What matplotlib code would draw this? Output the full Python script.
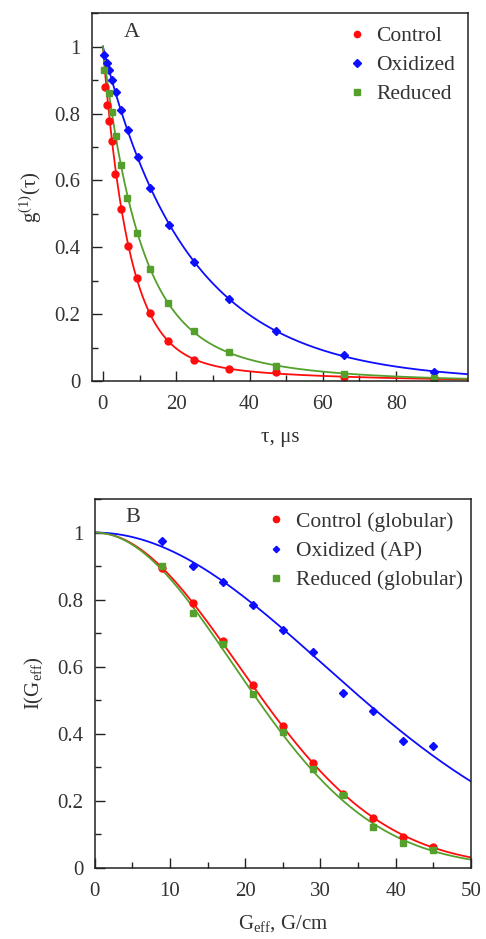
import numpy as np
import matplotlib
matplotlib.use('Agg')
import matplotlib.pyplot as plt
from matplotlib.ticker import MultipleLocator, FormatStrFormatter

plt.rcParams['font.family'] = ['Liberation Serif', 'DejaVu Serif']
plt.rcParams['mathtext.fontset'] = 'custom'
plt.rcParams['mathtext.rm'] = 'Liberation Serif'
plt.rcParams['mathtext.it'] = 'Liberation Serif:italic'
plt.rcParams['text.color'] = '#333333'
plt.rcParams['axes.labelcolor'] = '#333333'
plt.rcParams['xtick.color'] = '#222222'
plt.rcParams['ytick.color'] = '#222222'
plt.rcParams['xtick.labelcolor'] = '#333333'
plt.rcParams['ytick.labelcolor'] = '#333333'

RED = '#ff0d0d'
BLUE = '#0d0dff'
GREEN = '#55a02c'

# panel A: correlation functions
tau_control = [0.5, 1.1, 1.7, 2.5, 3.4, 4.9, 6.8, 9.3, 12.9, 17.9, 24.9, 34.3, 47.3, 65.7, 90.3]
g_control = [0.88, 0.826, 0.777, 0.717, 0.619, 0.514, 0.403, 0.308, 0.203, 0.120, 0.063, 0.037, 0.027, 0.013, 0.006]

tau_oxidized = [0.4, 1.1, 1.7, 2.6, 3.6, 4.9, 6.9, 9.5, 12.9, 18.1, 24.9, 34.3, 47.3, 65.7, 90.3]
g_oxidized = [0.974, 0.952, 0.93, 0.90, 0.865, 0.81, 0.75, 0.671, 0.576, 0.468, 0.355, 0.246, 0.149, 0.077, 0.029]

tau_reduced = [0.3, 1.8, 2.6, 3.5, 5.0, 6.7, 9.3, 12.9, 17.9, 24.9, 34.3, 47.3, 65.7, 90.3]
g_reduced = [0.93, 0.86, 0.805, 0.734, 0.646, 0.549, 0.443, 0.335, 0.233, 0.150, 0.086, 0.046, 0.023, 0.01]

# panel B: diffusion attenuation
geff = [9, 13, 17, 21, 25, 29, 33, 37, 41, 45]
i_control = [0.895, 0.790, 0.677, 0.546, 0.422, 0.312, 0.222, 0.148, 0.093, 0.064]
i_oxidized = [0.974, 0.901, 0.852, 0.784, 0.710, 0.645, 0.521, 0.469, 0.379, 0.365]
i_reduced = [0.901, 0.760, 0.669, 0.518, 0.404, 0.296, 0.218, 0.123, 0.076, 0.054]


def fit_biexp(t, g):
    # g(t) = a*exp(-t/t1) + (1-a)*exp(-t/t2), weighted grid search on t1, t2
    t = np.asarray(t)
    g = np.asarray(g)
    w = 1.0 / (g + 0.03) ** 2
    best = None
    for t1 in np.linspace(1, 40, 79):
        for t2 in np.linspace(5, 150, 146):
            if t2 <= t1:
                continue
            e1 = np.exp(-t / t1)
            e2 = np.exp(-t / t2)
            d = e1 - e2
            a = np.clip(np.sum(w * (g - e2) * d) / np.sum(w * d * d), 0, 1)
            r = np.sum(w * (a * e1 + (1 - a) * e2 - g) ** 2)
            if best is None or r < best[0]:
                best = (r, t1, t2, a)
    _, t1, t2, a = best
    return lambda x: a * np.exp(-x / t1) + (1 - a) * np.exp(-x / t2)


def fit_gauss(G, I):
    G = np.asarray(G, float)
    I = np.asarray(I, float)
    k = -np.sum(G ** 2 * np.log(I)) / np.sum(G ** 4)
    return lambda x: np.exp(-k * x ** 2)


def style_axes(ax):
    ax.tick_params(which='both', direction='in', top=False, right=False, labelsize=15)
    ax.tick_params(axis='x', which='both', pad=10)
    ax.tick_params(axis='y', which='both', pad=8)
    ax.tick_params(which='major', length=7, width=1)
    ax.tick_params(which='minor', length=4.5, width=1)
    for s in ax.spines.values():
        s.set_linewidth(1.1)
        s.set_color('#222222')
    ax.yaxis.set_major_locator(MultipleLocator(0.2))
    ax.yaxis.set_minor_locator(MultipleLocator(0.1))
    ax.yaxis.set_major_formatter(FormatStrFormatter('%g'))
    ax.set_ylim(0, 1.1)


fig = plt.figure(figsize=(4.86, 9.39), dpi=100)

# ---- A ----
ax1 = fig.add_axes([0.189, 0.594, 0.774, 0.392])
xs = np.linspace(0, 100, 600)
series_a = [
    (tau_control, g_control, RED, 'o', 5, 'Control'),
    (tau_oxidized, g_oxidized, BLUE, 'D', 4.5, 'Oxidized'),
    (tau_reduced, g_reduced, GREEN, 's', 4.8, 'Reduced'),
]
for t, g, c, m, ms, lab in series_a:
    f = fit_biexp(t, g)
    ax1.plot(xs, f(xs), color=c, lw=1.3)
for t, g, c, m, ms, lab in series_a:
    ax1.plot(t, g, ls='none', marker=m, ms=ms, color=c, mec=c, label=lab)
ax1.set_xlim(-3, 99.6)
ax1.xaxis.set_major_locator(MultipleLocator(20))
ax1.xaxis.set_minor_locator(MultipleLocator(10))
style_axes(ax1)
ax1.set_xlabel('τ, μs', fontsize=15, labelpad=10)
ax1.set_ylabel('$\\mathregular{g^{(1)}(τ)}$', fontsize=15, labelpad=8)
ax1.text(0.106, 0.948, 'A', transform=ax1.transAxes, fontsize=16, ha='center', va='center')
ax1.legend(loc='upper right', frameon=False, fontsize=15.5, handlelength=0.8,
           handletextpad=0.5, labelspacing=0.42, borderaxespad=0.3, borderpad=0.3,
           markerscale=0.9)

# ---- B ----
ax2 = fig.add_axes([0.195, 0.0756, 0.774, 0.393])
xg = np.linspace(0, 50, 400)
series_b = [
    (i_control, RED, 'o', 5, 'Control (globular)'),
    (i_oxidized, BLUE, 'D', 3.6, 'Oxidized (AP)'),
    (i_reduced, GREEN, 's', 4.8, 'Reduced (globular)'),
]
for I, c, m, ms, lab in series_b:
    f = fit_gauss(geff, I)
    ax2.plot(xg, f(xg), color=c, lw=1.3)
for I, c, m, ms, lab in series_b:
    ax2.plot(geff, I, ls='none', marker=m, ms=ms, color=c, mec=c, label=lab)
ax2.set_xlim(0, 50)
ax2.xaxis.set_major_locator(MultipleLocator(10))
ax2.xaxis.set_minor_locator(MultipleLocator(5))
style_axes(ax2)
ax2.set_xlabel('G$_{\\mathregular{eff}}$, G/cm', fontsize=15, labelpad=9)
ax2.set_ylabel('I(G$_{\\mathregular{eff}}$)', fontsize=15, labelpad=8)
ax2.text(0.10, 0.951, 'B', transform=ax2.transAxes, fontsize=16, ha='center', va='center')
ax2.legend(loc='upper right', bbox_to_anchor=(1.012, 1.0), frameon=False, fontsize=15.5,
           handlelength=0.8, handletextpad=0.5, labelspacing=0.42, borderaxespad=0.3,
           borderpad=0.3, markerscale=0.9)

fig.savefig('out.png', dpi=100)
